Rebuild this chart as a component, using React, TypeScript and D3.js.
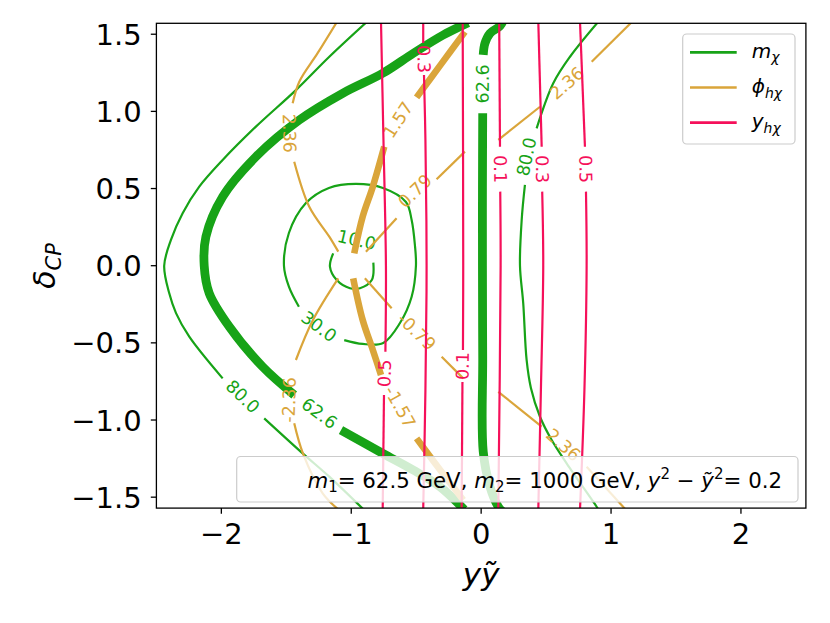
import React from 'react';
import * as d3 from 'd3';

type Pt = [number, number];
type Piece = Pt[];

// axis setup
const xDomain: [number, number] = [-2.5, 2.5];
const yDomain: [number, number] = [-Math.PI / 2, Math.PI / 2];
const xTicks = [-2, -1, 0, 1, 2];
const yTicks = [-1.5, -1.0, -0.5, 0.0, 0.5, 1.0, 1.5];

// ---- m_chi contours ----
const mChi80Left: Piece[] = [
  [[-0.88, 1.58], [-1.169, 1.354], [-1.426, 1.138], [-1.734, 0.901], [-1.99, 0.685], [-2.17, 0.512], [-2.298, 0.34], [-2.388, 0.167], [-2.44, 0], [-2.401, -0.179], [-2.349, -0.307], [-2.247, -0.46], [-1.99, -0.73]],
  [[-1.67, -0.989], [-1.374, -1.216], [-1.169, -1.367], [-0.905, -1.58]],
];
const mChi62Left: Piece[] = [
  [[-0.1, 1.575], [-0.292, 1.495], [-0.523, 1.376], [-0.758, 1.247], [-1.066, 1.117], [-1.4, 0.944], [-1.734, 0.706], [-1.99, 0.447], [-2.119, 0.188], [-2.132, 0], [-2.093, -0.179], [-1.939, -0.395], [-1.682, -0.655], [-1.439, -0.838]],
  [[-1.079, -1.065], [-0.758, -1.216], [-0.523, -1.324], [-0.317, -1.432], [-0.13, -1.58]],
];
const mChi62Mid: Piece[] = [
  [[0.168, 1.585], [0.145, 1.553], [0.068, 1.506], [0.029, 1.441], [0.016, 1.366]],
  [[0.012, 0.988], [0.01, 0.5], [0.01, 0], [0.012, -0.6], [0.016, -1.205], [0.068, -1.432], [0.132, -1.562], [0.16, -1.59]],
];
const mChi80Right: Piece[] = [
  [[0.911, 1.59], [0.684, 1.354], [0.555, 1.182], [0.427, 0.89]],
  [[0.337, 0.523], [0.312, 0.296], [0.299, 0], [0.324, -0.244], [0.35, -0.611], [0.383, -0.792], [0.453, -0.979], [0.543, -1.13], [0.658, -1.281], [0.889, -1.562], [0.91, -1.59]],
];
const mChi30: Piece[] = [
  [[-1.403, -0.266], [-1.48, -0.136], [-1.518, 0], [-1.48, 0.212], [-1.349, 0.406], [-1.172, 0.504], [-0.964, 0.53], [-0.756, 0.504], [-0.579, 0.413], [-0.535, 0.296], [-0.51, 0.134], [-0.502, 0], [-0.535, -0.201], [-0.626, -0.373], [-0.754, -0.501], [-0.912, -0.507], [-1.054, -0.482]],
];
const mChi10: Piece[] = [
  [[-1.139, 0.08], [-1.164, -0.006], [-1.112, -0.093], [-1.01, -0.146], [-0.933, -0.146], [-0.842, -0.093], [-0.83, 0.02]],
];

// ---- phi_hchi contours ----
const phi236UL: Piece[] = [
  [[-1.11, 1.58], [-1.259, 1.377], [-1.4, 1.192], [-1.451, 1.052]],
  [[-1.439, 0.674], [-1.323, 0.382], [-1.169, 0.188], [-1.1, 0.091]],
];
const phiM236LL: Piece[] = [
  [[-1.1, -0.082], [-1.295, -0.352], [-1.426, -0.611]],
  [[-1.439, -1.021], [-1.372, -1.216], [-1.22, -1.475], [-1.095, -1.583]],
];
const phi157: Piece[] = [
  [[-0.125, 1.515], [-0.311, 1.303], [-0.497, 1.091]],
  [[-0.746, 0.771], [-0.834, 0.512], [-0.912, 0.318], [-0.977, 0.08]],
  [[-0.985, -0.082], [-0.912, -0.352], [-0.834, -0.546], [-0.771, -0.708]],
  [[-0.497, -1.119], [-0.317, -1.322], [-0.138, -1.518]],
];
const phi079: Piece[] = [
  [[-0.887, 0.091], [-0.651, 0.307]],
  [[-0.343, 0.56], [-0.125, 0.739]],
];
const phiM079: Piece[] = [
  [[-0.895, -0.082], [-0.689, -0.276]],
  [[-0.304, -0.59], [-0.138, -0.73]],
];
const phi236UR: Piece[] = [
  [[0.132, 0.815], [0.453, 1.03]],
  [[0.851, 1.322], [1.161, 1.58]],
];
const phi236LR: Piece[] = [
  [[0.132, -0.817], [0.466, -1.043]],
  [[0.812, -1.303], [1.112, -1.58]],
];

// ---- y_hchi contours ----
const yHchiA: Piece[] = [
  [[-0.771, 1.58], [-0.752, 0.815], [-0.733, 0], [-0.737, -0.557]],
  [[-0.748, -0.838], [-0.758, -1.58]],
];
const yHchiB: Piece[] = [
  [[-0.446, 1.58], [-0.446, 1.443]],
  [[-0.44, 1.236], [-0.429, 0.815], [-0.42, 0], [-0.429, -0.806], [-0.446, -1.58]],
];
const yHchiC: Piece[] = [
  [[-0.142, 1.58], [-0.138, 0], [-0.14, -0.546]],
  [[-0.144, -0.754], [-0.15, -1.58]],
];
const yHchiD: Piece[] = [
  [[0.139, 1.58], [0.145, 0.771]],
  [[0.147, 0.48], [0.15, 0], [0.132, -1.58]],
];
const yHchiE: Piece[] = [
  [[0.44, 1.58], [0.466, 0.771]],
  [[0.47, 0.48], [0.478, 0], [0.46, -0.806], [0.44, -1.58]],
];
const yHchiF: Piece[] = [
  [[0.761, 1.58], [0.799, 0.771]],
  [[0.807, 0.48], [0.812, 0], [0.795, -0.806], [0.761, -1.58]],
];

type Label = { text: string; at: Pt; after: number };
type Contour = { kind: 'm' | 'phi' | 'y'; thick: boolean; pieces: Piece[]; labels: Label[] };

const contours: Contour[] = [
  { kind: 'm', thick: false, pieces: mChi80Left, labels: [{ text: '80.0', at: [-1.836, -0.849], after: 0 }] },
  { kind: 'm', thick: true, pieces: mChi62Left, labels: [{ text: '62.6', at: [-1.246, -0.957], after: 0 }] },
  { kind: 'm', thick: true, pieces: mChi62Mid, labels: [{ text: '62.6', at: [0.012, 1.178], after: 0 }] },
  { kind: 'm', thick: false, pieces: mChi80Right, labels: [{ text: '80.0', at: [0.35, 0.706], after: 0 }] },
  { kind: 'm', thick: false, pieces: mChi30, labels: [{ text: '30.0', at: [-1.249, -0.395], after: 0 }] },
  { kind: 'm', thick: false, pieces: mChi10, labels: [{ text: '10.0', at: [-0.958, 0.167], after: 0 }] },
  { kind: 'phi', thick: false, pieces: phi236UL, labels: [{ text: '2.36', at: [-1.477, 0.858], after: 0 }] },
  { kind: 'phi', thick: false, pieces: phiM236LL, labels: [{ text: '-2.36', at: [-1.477, -0.87], after: 0 }] },
  { kind: 'phi', thick: true, pieces: phi157, labels: [{ text: '1.57', at: [-0.638, 0.944], after: 0 }, { text: '-1.57', at: [-0.625, -0.916], after: 2 }] },
  { kind: 'phi', thick: false, pieces: phi079, labels: [{ text: '0.79', at: [-0.509, 0.484], after: 0 }] },
  { kind: 'phi', thick: false, pieces: phiM079, labels: [{ text: '-0.79', at: [-0.497, -0.428], after: 0 }] },
  { kind: 'phi', thick: false, pieces: phi236UR, labels: [{ text: '2.36', at: [0.66, 1.182], after: 0 }] },
  { kind: 'phi', thick: false, pieces: phi236LR, labels: [{ text: '2.36', at: [0.632, -1.162], after: 0 }] },
  { kind: 'y', thick: false, pieces: yHchiA, labels: [{ text: '0.5', at: [-0.742, -0.697], after: 0 }] },
  { kind: 'y', thick: false, pieces: yHchiB, labels: [{ text: '0.3', at: [-0.443, 1.339], after: 0 }] },
  { kind: 'y', thick: false, pieces: yHchiC, labels: [{ text: '0.1', at: [-0.142, -0.65], after: 0 }] },
  { kind: 'y', thick: false, pieces: yHchiD, labels: [{ text: '0.1', at: [0.146, 0.626], after: 0 }] },
  { kind: 'y', thick: false, pieces: yHchiE, labels: [{ text: '0.3', at: [0.468, 0.626], after: 0 }] },
  { kind: 'y', thick: false, pieces: yHchiF, labels: [{ text: '0.5', at: [0.803, 0.626], after: 0 }] },
];

const COLORS = { m: '#17a317', phi: '#daa53a', y: '#f5105a' };
const THICK = { m: 8.8, phi: 6.6, y: 2.2 };
const FONT = 'DejaVu Sans, Verdana, sans-serif';

export default function App() {
  const L = 156.4, R = 805.9, T = 23.3, B = 508.1;
  const x = d3.scaleLinear().domain(xDomain).range([L, R]);
  const y = d3.scaleLinear().domain(yDomain).range([B, T]);
  const line = d3
    .line<Pt>()
    .x((d) => x(d[0]))
    .y((d) => y(d[1]))
    .curve(d3.curveCatmullRom.alpha(0.5));
  const fy = d3.format('.1f');
  const fx = d3.format('d');

  const labelAngle = (c: Contour, lab: Label) => {
    const a = c.pieces[lab.after];
    const b = c.pieces[(lab.after + 1) % c.pieces.length];
    const p = a[a.length - 1];
    const q = b[0];
    let ang = (Math.atan2(y(q[1]) - y(p[1]), x(q[0]) - x(p[0])) * 180) / Math.PI;
    if (ang > 90) ang -= 180;
    if (ang < -90) ang += 180;
    return ang;
  };

  const order: ('m' | 'phi' | 'y')[] = ['m', 'phi', 'y'];

  return (
    <svg width={830} height={623} style={{ position: 'absolute', left: 0, top: 0, background: '#fff' }} fontFamily={FONT}>
      <defs>
        <clipPath id="plotclip">
          <rect x={L} y={T} width={R - L} height={B - T} />
        </clipPath>
      </defs>
      <rect x={0} y={0} width={830} height={623} fill="#fff" />
      <g clipPath="url(#plotclip)">
        {order.map((k) =>
          contours
            .filter((c) => c.kind === k)
            .map((c, ci) => (
              <g key={k + ci}>
                {c.pieces.map((p, pi) => (
                  <path
                    key={pi}
                    d={line(p) || ''}
                    fill="none"
                    stroke={COLORS[c.kind]}
                    strokeWidth={c.thick ? THICK[c.kind] : 2.2}
                    strokeLinecap="butt"
                    strokeLinejoin="round"
                  />
                ))}
                {c.labels.map((lab, li) => (
                  <text
                    key={'l' + li}
                    transform={`translate(${x(lab.at[0])},${y(lab.at[1])}) rotate(${labelAngle(c, lab)})`}
                    textAnchor="middle"
                    dominantBaseline="central"
                    fontSize={17.5}
                    fill={COLORS[c.kind]}
                  >
                    {lab.text}
                  </text>
                ))}
              </g>
            ))
        )}
      </g>

      {/* frame */}
      <rect x={L} y={T} width={R - L} height={B - T} fill="none" stroke="#000" strokeWidth={1.3} />

      {/* x ticks */}
      {xTicks.map((t) => (
        <g key={'xt' + t}>
          <line x1={x(t)} x2={x(t)} y1={B} y2={B + 5.6} stroke="#000" strokeWidth={1.3} />
          <text x={x(t)} y={543.6} textAnchor="middle" fontSize={29} fill="#000">
            {fx(t)}
          </text>
        </g>
      ))}
      {/* y ticks */}
      {yTicks.map((t) => (
        <g key={'yt' + t}>
          <line x1={L - 5.6} x2={L} y1={y(t)} y2={y(t)} stroke="#000" strokeWidth={1.3} />
          <text x={141.7} y={y(t) + 10.6} textAnchor="end" fontSize={29} fill="#000">
            {fy(t)}
          </text>
        </g>
      ))}

      {/* axis labels */}
      <text x={x(0)} y={585} textAnchor="middle" fontSize={31} fontStyle="italic" fill="#000">
        yỹ
      </text>
      <text transform="translate(55,266) rotate(-90)" textAnchor="middle" fontSize={30} fill="#000">
        <tspan fontStyle="italic">δ</tspan>
        <tspan fontStyle="italic" fontSize={21} dy={6}>
          CP
        </tspan>
      </text>

      {/* legend */}
      <rect x={682.7} y={34} width={112.3} height={110} rx={4} fill="#fff" fillOpacity={0.8} stroke="#cccccc" strokeWidth={1.2} />
      {order.map((k, i) => (
        <line key={'lg' + k} x1={690} x2={736.7} y1={52.3 + i * 35.2} y2={52.3 + i * 35.2} stroke={COLORS[k]} strokeWidth={2.7} />
      ))}
      <text x={751.7} y={57.8} fontSize={20} fill="#000" style={{ whiteSpace: 'pre' }}>
        <tspan fontStyle="italic">m</tspan>
        <tspan fontStyle="italic" fontSize={14} dy={4.5}>χ</tspan>
      </text>
      <text x={751.7} y={93} fontSize={20} fill="#000" style={{ whiteSpace: 'pre' }}>
        <tspan fontStyle="italic">ϕ</tspan>
        <tspan fontStyle="italic" fontSize={14} dy={4.5}>hχ</tspan>
      </text>
      <text x={751.7} y={128.2} fontSize={20} fill="#000" style={{ whiteSpace: 'pre' }}>
        <tspan fontStyle="italic">y</tspan>
        <tspan fontStyle="italic" fontSize={14} dy={4.5}>hχ</tspan>
      </text>

      {/* parameter box */}
      <rect x={236.7} y={456.5} width={561.3} height={45.5} rx={4} fill="#fff" fillOpacity={0.8} stroke="#cccccc" strokeWidth={1.2} />
      <text x={782} y={487.5} textAnchor="end" fontSize={21.3} fill="#000" style={{ whiteSpace: 'pre' }}>
        <tspan fontStyle="italic">m</tspan>
        <tspan fontSize={15} dy={4.5}>1</tspan>
        <tspan dy={-4.5}>= 62.5 GeV, </tspan>
        <tspan fontStyle="italic">m</tspan>
        <tspan fontSize={15} dy={4.5}>2</tspan>
        <tspan dy={-4.5}>= 1000 GeV, </tspan>
        <tspan fontStyle="italic">y</tspan>
        <tspan fontSize={15} dy={-8.5}>2</tspan>
        <tspan dy={8.5}> − </tspan>
        <tspan fontStyle="italic">ỹ</tspan>
        <tspan fontSize={15} dy={-8.5}>2</tspan>
        <tspan dy={8.5}>= 0.2</tspan>
      </text>
    </svg>
  );
}
